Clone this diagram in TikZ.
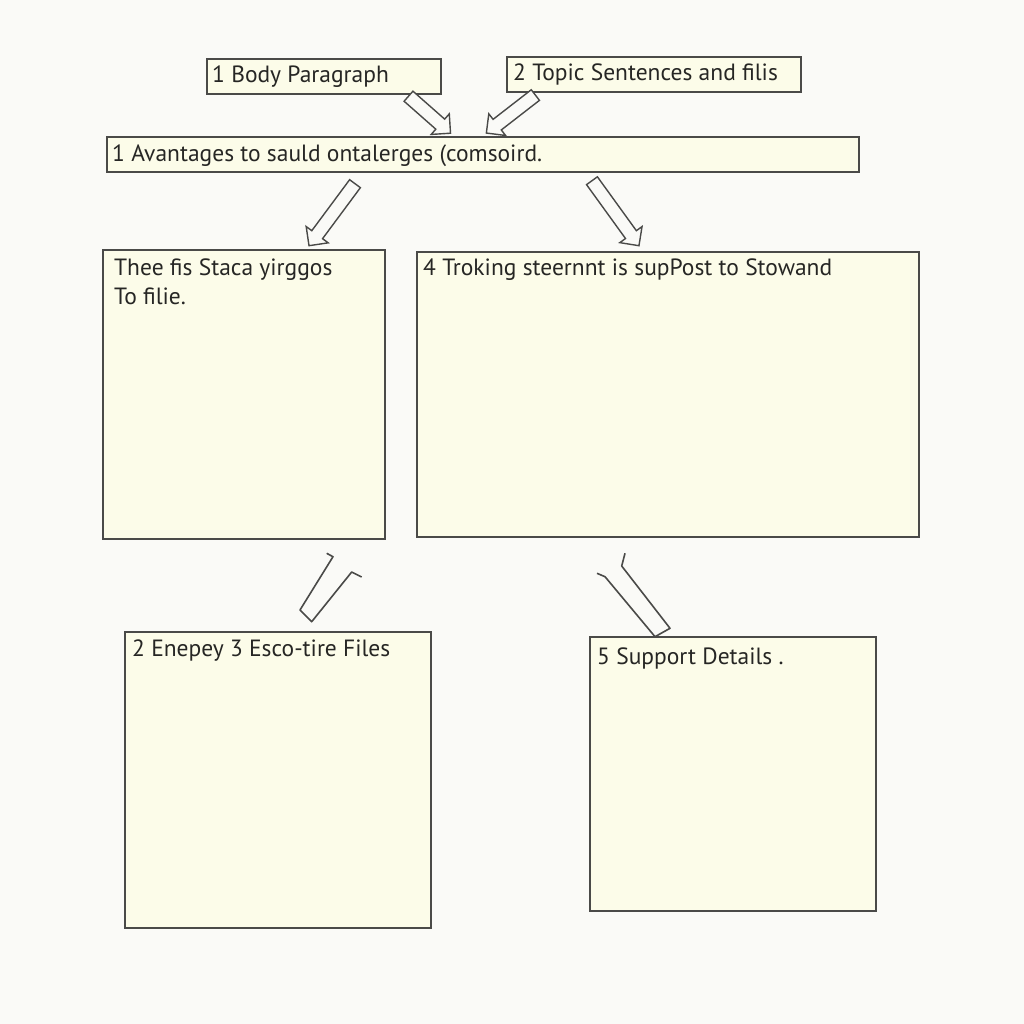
\documentclass[tikz,border=0pt]{standalone}
\usepackage{fontspec}
\setmainfont{PT Sans}
\usetikzlibrary{shapes.arrows,calc}
\definecolor{bgc}{HTML}{FAFAF7}
\definecolor{boxfill}{HTML}{FCFCE9}
\definecolor{ink}{HTML}{4A4A48}
\definecolor{txtc}{HTML}{262624}
\tikzset{
  box/.style={draw=ink, line width=1.6pt, fill=boxfill, anchor=north west, inner sep=0pt},
  txt/.style={text=txtc, font=\fontsize{23.5}{29}\selectfont, anchor=base west, inner sep=0pt, align=left},
  harrow/.style={single arrow, draw=ink, line width=1.4pt, fill=bgc, inner sep=6pt,
    single arrow head extend=7pt, single arrow head indent=0pt},
  bracket/.style={draw=ink, line width=1.6pt, line join=round}
}
\newcommand\hollowarrow[3]{%
  \path let \p1=(#2), \p2=(#3), \n1={atan2(\y2-\y1,\x2-\x1)}, \n2={veclen(\x2-\x1,\y2-\y1)} in
    node[harrow, minimum height=\n2, rotate=\n1] (#1) at ($(#2)!0.5!(#3)$) {};}
\begin{document}
\begin{tikzpicture}[x=1pt,y=-1pt]
\fill[bgc] (0,0) rectangle (1024,1024);
\useasboundingbox (0,0) rectangle (1024,1024);
% boxes
\node[box, minimum width=234pt, minimum height=35pt] (bp) at (206,58) {};
\node[box, minimum width=294pt, minimum height=35pt] (ts) at (506,56) {};
\node[box, minimum width=752pt, minimum height=35pt] (av) at (106,136) {};
\node[box, minimum width=282pt, minimum height=289pt] (bl) at (102,249) {};
\node[box, minimum width=502pt, minimum height=285pt] (br) at (416,251) {};
\node[box, minimum width=306pt, minimum height=296pt] (cl) at (124,631) {};
\node[box, minimum width=286pt, minimum height=274pt] (cr) at (589,636) {};
% texts
\node[txt] (tbp) at (212,83) {1 Body Paragraph};
\node[txt] (tts) at (513,81) {2 Topic Sentences and filis};
\node[txt] (tav) at (112,162) {1 Avantages to sauld ontalerges (comsoird.};
\node[txt] (tbl) at (114,275) {Thee fis Staca yirggos};
\node[txt] (tbl2) at (114,304) {To filie.};
\node[txt] (tbr) at (423,275) {4 Troking steernnt is supPost to Stowand};
\node[txt] (tcl) at (132,656) {2 Enepey 3 Esco-tire Files};
\node[txt] (tcr) at (597,664) {5 Support Details .};
% arrows
\coordinate (a1s) at (406,94); \coordinate (a1e) at (448,131);
\coordinate (a2s) at (538,93); \coordinate (a2e) at (489,131);
\coordinate (a3s) at (357,181); \coordinate (a3e) at (311,243);
\coordinate (a4s) at (590,178); \coordinate (a4e) at (637,243);
\hollowarrow{ar1}{a1s}{a1e}
\hollowarrow{ar2}{a2s}{a2e}
\hollowarrow{ar3}{a3s}{a3e}
\hollowarrow{ar4}{a4s}{a4e}
% open brackets
\draw[bracket] (326.7,553.3) -- (333,556.7) -- (300,610) -- (311.7,621.7) -- (351.7,572) -- (361.7,577);
\draw[bracket] (597,573.3) -- (605,576.7) -- (655,636.7) -- (670,628.3) -- (621.7,566) -- (625,553.3);
\end{tikzpicture}
\end{document}
